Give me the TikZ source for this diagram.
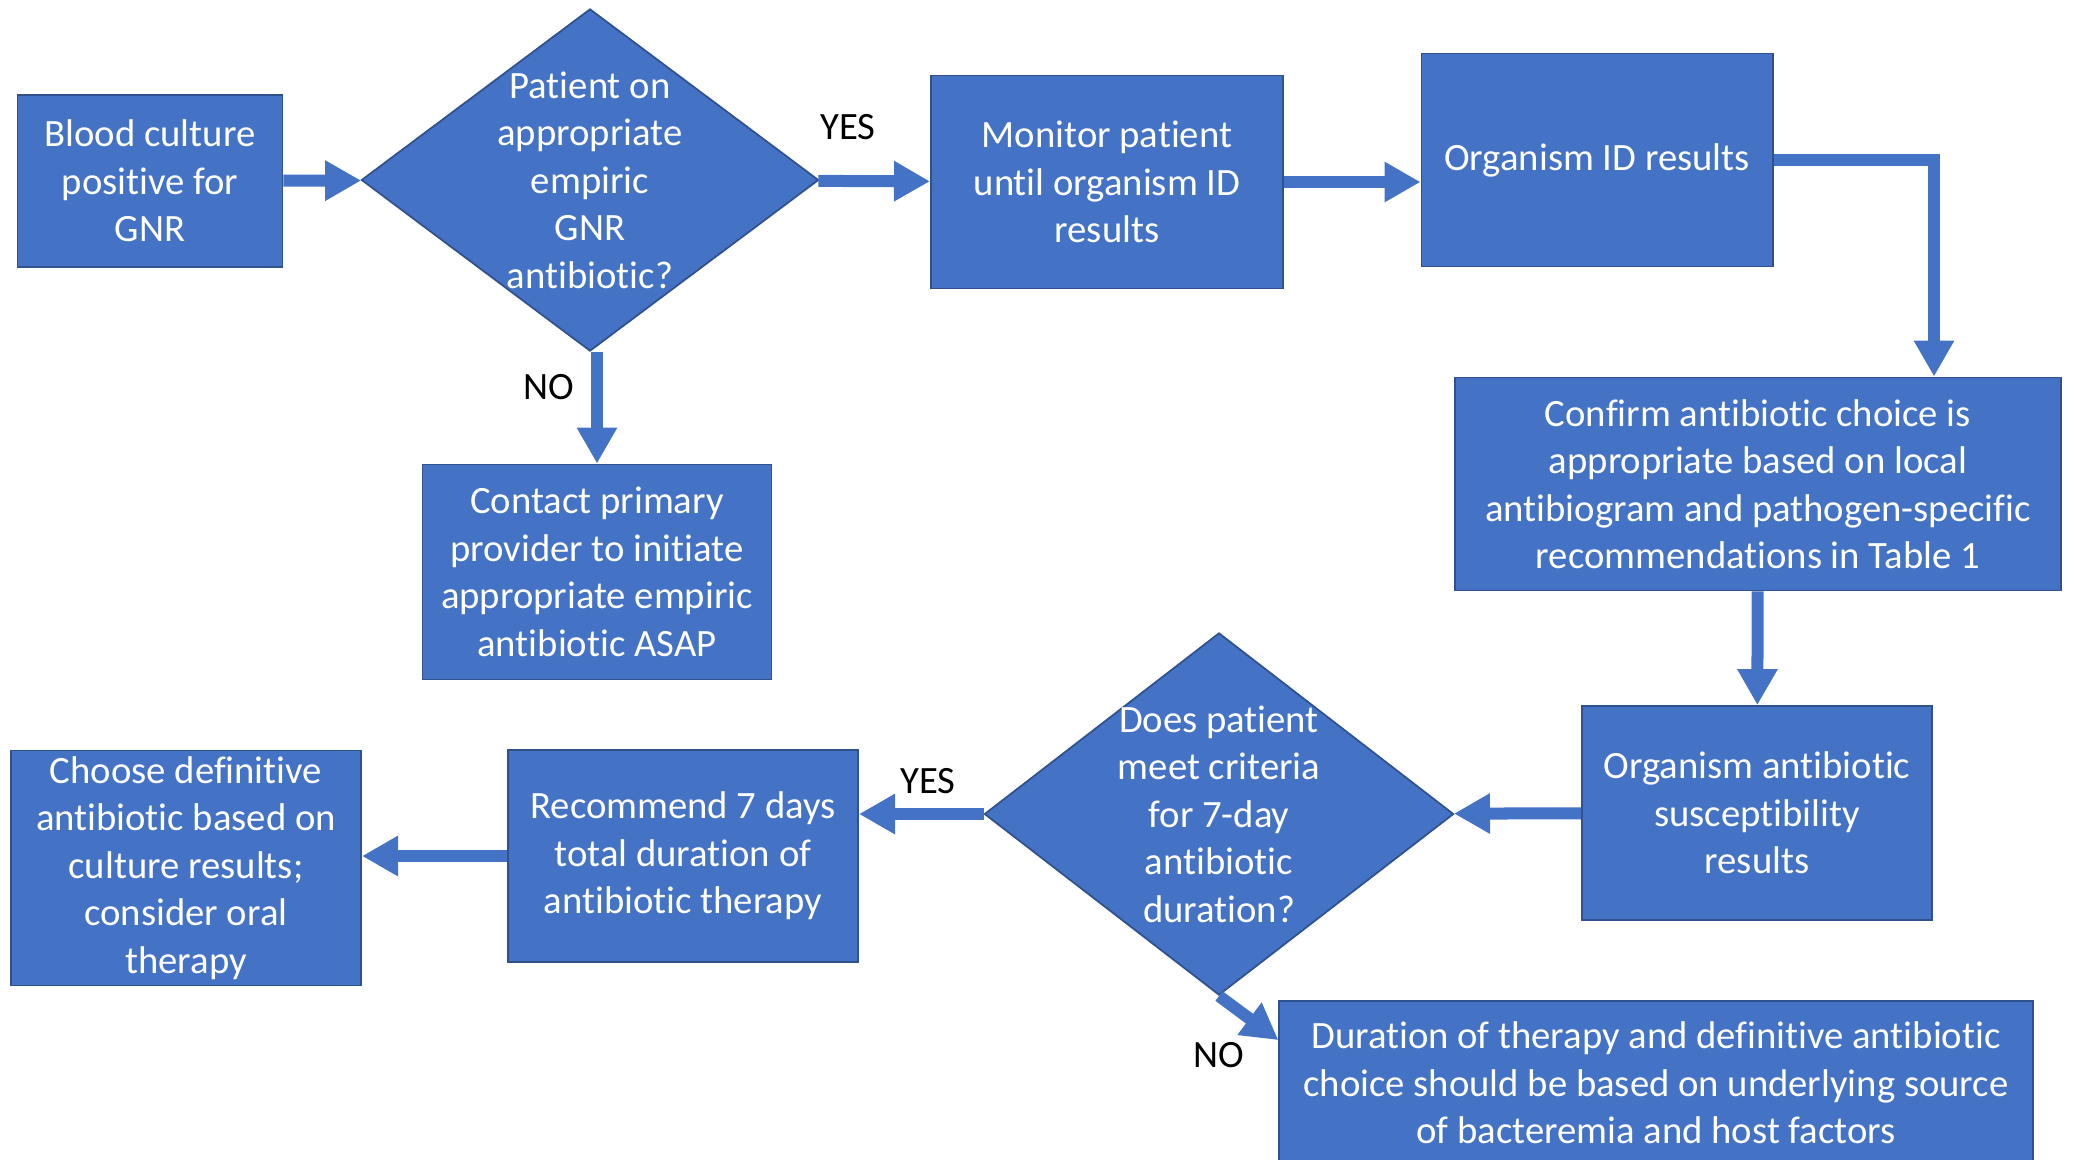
\documentclass[tikz,border=0pt]{standalone}
\usepackage{fontspec}
\setmainfont{Carlito}[Ligatures=CommonOff]
\usetikzlibrary{shapes.geometric,arrows.meta}
\definecolor{boxblue}{HTML}{4472C4}
\definecolor{edgeblue}{HTML}{2F528F}

\begin{document}
\begin{tikzpicture}[x=0.01cm, y=-0.01cm,
    font=\fontsize{11pt}{13.5pt}\selectfont,
    stepbox/.style={rectangle, fill=boxblue, draw=edgeblue, line width=0.5pt,
      text=white, align=center, inner sep=0pt},
    decision/.style={diamond, fill=boxblue, draw=edgeblue, line width=0.5pt, inner sep=0pt},
    qtext/.style={text=white, align=center},
    flow/.style={draw=boxblue, line width=0.12cm, -{Triangle[width=0.38cm,length=0.36cm]}},
    answer/.style={text=black}]
  \useasboundingbox (0,0) rectangle (2073,1159);

  % top row
  \node[stepbox, minimum width=2.65cm, minimum height=1.72cm] (blood) at (150,181)
    {Blood culture\\positive for\\GNR};
  \node[decision, minimum width=4.57cm, minimum height=3.42cm,
    label={[qtext]center:Patient on\\appropriate\\empiric\\GNR\\antibiotic?}] (empiric) at (590,180) {};
  \node[stepbox, minimum width=3.52cm, minimum height=2.13cm] (monitor) at (1107,182)
    {Monitor patient\\until organism ID\\results};
  \node[stepbox, minimum width=3.51cm, minimum height=2.13cm] (orgid) at (1597,160)
    {Organism ID results};
  \node[stepbox, minimum width=6.05cm, minimum height=2.13cm] (confirm) at (1758,484)
    {Confirm antibiotic choice is\\appropriate based on local\\antibiogram and pathogen-specific\\recommendations in Table 1};
  \node[stepbox, minimum width=3.49cm, minimum height=2.15cm] (contact) at (597,572)
    {Contact primary\\provider to initiate\\appropriate empiric\\antibiotic ASAP};

  % bottom row
  \node[stepbox, minimum width=3.50cm, minimum height=2.14cm] (suscept) at (1757,813)
    {Organism antibiotic\\susceptibility\\results};
  \node[decision, minimum width=4.69cm, minimum height=3.62cm,
    label={[qtext]center:Does patient\\meet criteria\\for 7-day\\antibiotic\\duration?}] (sevenday) at (1219,814) {};
  \node[stepbox, minimum width=3.50cm, minimum height=2.12cm] (recommend) at (683,856)
    {Recommend 7 days\\total duration of\\antibiotic therapy};
  \node[stepbox, minimum width=3.50cm, minimum height=2.35cm] (choose) at (186,868)
    {Choose definitive\\antibiotic based on\\culture results;\\consider oral\\therapy};
  \node[stepbox, minimum width=7.53cm, minimum height=1.64cm] (duration) at (1656,1083)
    {Duration of therapy and definitive antibiotic\\choice should be based on underlying source\\of bacteremia and host factors};

  % answers
  \node[answer] (yes1) at (848,127) {YES};
  \node[answer] (no1) at (549,387) {NO};
  \node[answer] (yes2) at (928,781) {YES};
  \node[answer] (no2) at (1219,1055) {NO};

  % connectors
  \coordinate (bend) at (1934,160);
  \draw[flow] (blood) -- (empiric);
  \draw[flow] (empiric) -- (monitor);
  \draw[flow] (contact.north |- empiric.south) -- (contact.north);
  \draw[flow] (monitor.east) -- (monitor.east -| orgid.west);
  \draw[flow] (orgid.east) -- (bend) -- (bend |- confirm.north);
  \draw[flow] (confirm) -- (suscept);
  \draw[flow] (suscept) -- (sevenday);
  \draw[flow] (sevenday.west) -- (sevenday.west -| recommend.east);
  \draw[flow] (recommend.west) -- (recommend.west -| choose.east);
  \draw[flow] (sevenday.south) -- ([yshift=-0.4cm]duration.north west);
\end{tikzpicture}
\end{document}
